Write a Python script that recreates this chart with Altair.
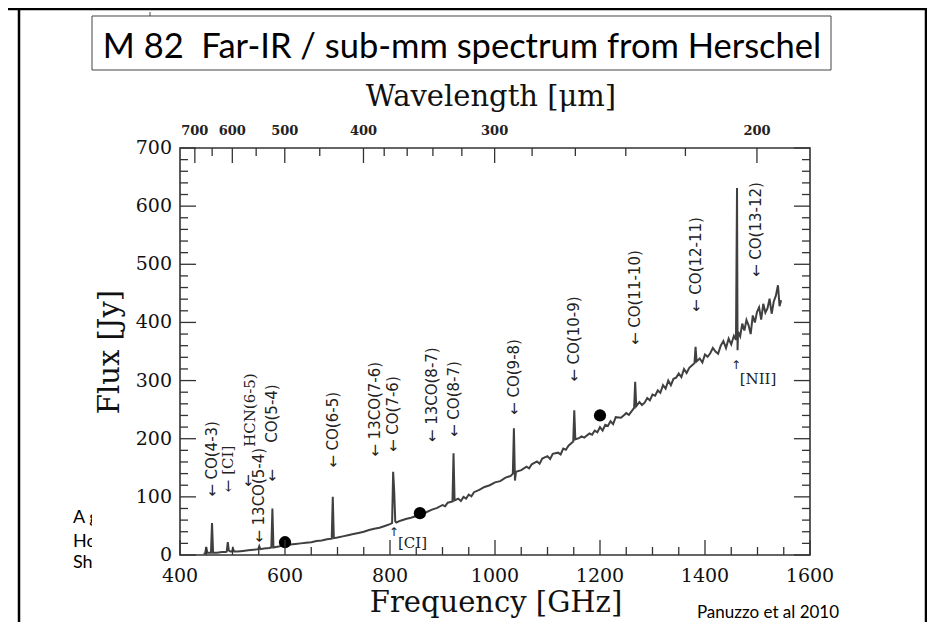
import altair as alt
import pandas as pd

# ---------------- data ----------------
freq = [445, 448, 450, 452, 456, 459, 461, 463, 470, 480,
        487, 489, 491, 493, 496, 499, 501, 503, 510, 520,
        530, 540, 549, 551, 553, 560, 570, 574, 576, 578,
        590, 600, 610, 620, 630, 640, 650, 660, 670, 680,
        689, 691, 693, 700, 710, 720, 730, 740, 750, 760,
        770, 780, 790, 800, 804, 806, 808, 810, 812, 820,
        830, 840, 850, 860, 870, 880, 890, 900, 905, 910,
        919, 921, 923, 930, 935, 940, 945, 950, 955, 960,
        970, 980, 990, 1000, 1010, 1020, 1030, 1034, 1036, 1038,
        1040, 1050, 1060, 1065, 1070, 1080, 1085, 1090, 1100, 1105,
        1110, 1120, 1125, 1130, 1135, 1140, 1149, 1151, 1153, 1160,
        1165, 1170, 1180, 1185, 1190, 1195, 1200, 1205, 1210, 1215,
        1220, 1225, 1230, 1240, 1245, 1250, 1255, 1265, 1267, 1269,
        1275, 1280, 1285, 1290, 1295, 1300, 1305, 1310, 1315, 1320,
        1325, 1330, 1335, 1340, 1345, 1350, 1355, 1360, 1365, 1370,
        1375, 1380, 1382, 1384, 1390, 1395, 1400, 1405, 1410, 1415,
        1420, 1425, 1430, 1435, 1440, 1445, 1450, 1455, 1459, 1461,
        1462, 1463, 1467, 1471, 1475, 1479, 1483, 1487, 1491, 1495,
        1499, 1503, 1507, 1511, 1515, 1519, 1523, 1527, 1531, 1535,
        1539, 1542, 1545]
flux = [2, 3, 14, 4, 4, 4, 55, 4, 4, 5,
        5, 6, 22, 8, 6, 6, 11, 6, 6, 7,
        8, 9, 10, 15, 10, 11, 12, 13, 80, 13,
        15, 17, 18, 19, 20, 21, 22, 24, 25, 27,
        28, 100, 29, 30, 32, 34, 36, 38, 40, 43,
        45, 47, 50, 53, 55, 143, 110, 58, 56, 59,
        62, 64, 67, 70, 74, 78, 81, 86, 84, 90,
        92, 175, 94, 97, 93, 100, 97, 104, 101, 108,
        112, 117, 120, 125, 127, 133, 136, 140, 218, 128,
        143, 146, 152, 149, 156, 161, 157, 166, 170, 165,
        174, 176, 173, 183, 181, 188, 195, 249, 199, 201,
        204, 202, 209, 207, 214, 211, 220, 214, 224, 222,
        230, 225, 237, 236, 240, 244, 241, 253, 298, 256,
        263, 258, 262, 270, 266, 276, 274, 283, 279, 292,
        286, 300, 292, 303, 305, 312, 306, 320, 313, 322,
        326, 330, 358, 333, 338, 331, 345, 341, 347, 356,
        350, 346, 360, 368, 356, 372, 362, 377, 370, 631,
        352, 384, 376, 398, 386, 404, 395, 380, 412, 400,
        418, 426, 405, 432, 417, 424, 441, 415, 436, 446,
        464, 428, 438]

dot_freq = [600, 857, 1200]
dot_flux = [22, 72, 240]

x_major = [400, 600, 800, 1000, 1200, 1400, 1600]
x_minor = [450, 500, 550, 650, 700, 750, 850, 900, 950, 1050, 1100,
           1150, 1250, 1300, 1350, 1450, 1500, 1550]
y_major = [0, 100, 200, 300, 400, 500, 600, 700]
y_minor = [20, 40, 60, 80, 120, 140, 160, 180, 220, 240, 260, 280,
           320, 340, 360, 380, 420, 440, 460, 480, 520, 540, 560, 580,
           620, 640, 660, 680]
wl_major = [700, 600, 500, 400, 300, 200]
wl_minor = [650, 550, 450, 380, 360, 340, 320, 280, 260, 240, 220]
C_UM_GHZ = 299792.458  # wavelength [um] * frequency [GHz]

sans_text = ["← CO(4-3)", "← 13CO(5-4)", "CO(5-4)", "←", "←", "← CO(6-5)",
             "← 13CO(7-6)", "← CO(7-6)", "← 13CO(8-7)", "← CO(8-7)",
             "← CO(9-8)", "← CO(10-9)", "← CO(11-10)", "← CO(12-11)",
             "← CO(13-12)"]
sans_freq = [461, 551, 576, 576, 530, 691, 771, 806, 880, 921, 1036, 1151,
             1267, 1382, 1497]
sans_flux = [100, 21, 193, 126, 117, 150, 169, 177, 194, 203, 241, 298,
             361, 418, 478]

serif_rot_text = ["← [CI]", "HCN(6-5)"]
serif_rot_freq = [492, 533]
serif_rot_flux = [108, 186]

flat_text = ["[CI]", "[NII]"]
flat_freq = [815, 1466]
flat_flux = [20, 302]
up_freq = [807, 1459]
up_flux = [40, 326]

slide_words = ["A g", "Ho", "Sh"]

SERIF = "DejaVu Serif"
SANS = "DejaVu Sans"
SLIDE = "Lato"
W, H = 630, 407

xs = alt.Scale(domain=[400, 1600], nice=False, zero=False)
ys = alt.Scale(domain=[0, 700], nice=False, zero=False)


def X(field):
    return alt.X(field, type="quantitative", scale=xs, axis=None)


def Y(field):
    return alt.Y(field, type="quantitative", scale=ys, axis=None)


one = pd.DataFrame({"k": [0]})
spec_df = pd.DataFrame({"freq": freq, "flux": flux})
dots_df = pd.DataFrame({"freq": dot_freq, "flux": dot_flux})

layers = []

# ---------------- spectrum and photometry ----------------
layers.append(alt.Chart(spec_df).mark_line(color="#404040", strokeWidth=2).encode(
    x=X("freq"), y=Y("flux")))
layers.append(alt.Chart(dots_df).mark_circle(color="black", size=150, opacity=1).encode(
    x=X("freq"), y=Y("flux")))

# ---------------- slide decoration ----------------
layers.append(alt.Chart(one).mark_rule(color="black", strokeWidth=2.5).encode(
    x=alt.value(-161), y=alt.value(-140), y2=alt.value(480)))
layers.append(alt.Chart(one).mark_rule(color="black", strokeWidth=2.5).encode(
    x=alt.value(746), y=alt.value(-140), y2=alt.value(480)))
layers.append(alt.Chart(one).mark_rule(color="black", strokeWidth=2.5).encode(
    x=alt.value(-172), x2=alt.value(760), y=alt.value(-139)))
layers.append(alt.Chart(one).mark_rule(color="#444", strokeWidth=1).encode(
    x=alt.value(-30), y=alt.value(-136), y2=alt.value(-132)))
layers.append(alt.Chart(one).mark_rect(fill="white", stroke="#444", strokeWidth=1).encode(
    x=alt.value(-88), x2=alt.value(651), y=alt.value(-132), y2=alt.value(-78)))
layers.append(alt.Chart(one).mark_text(
    font=SLIDE, fontSize=34.5, align="center", baseline="alphabetic", color="black"
).encode(x=alt.value(282), y=alt.value(-90),
         text=alt.value("M 82\u00a0 Far-IR / sub-mm spectrum from Herschel")))

for word, yy in zip(slide_words, [370, 394, 415]):
    layers.append(alt.Chart(one).mark_text(
        font=SLIDE, fontSize=18, align="left", baseline="middle", color="black"
    ).encode(x=alt.value(-107), y=alt.value(yy), text=alt.value(word)))
layers.append(alt.Chart(one).mark_rect(fill="white").encode(
    x=alt.value(-88), x2=alt.value(-52), y=alt.value(355), y2=alt.value(430)))
layers.append(alt.Chart(one).mark_text(
    font=SLIDE, fontSize=17, align="center", baseline="middle", color="black"
).encode(x=alt.value(588), y=alt.value(465), text=alt.value("Panuzzo et al 2010")))

# ---------------- inward ticks on all four sides ----------------
TC = "#333"
xM = pd.DataFrame({"v": x_major})
xm = pd.DataFrame({"v": x_minor})
yM = pd.DataFrame({"v": y_major})
ym = pd.DataFrame({"v": y_minor})
tM = pd.DataFrame({"wl": wl_major, "v": [C_UM_GHZ / w for w in wl_major]})
tm = pd.DataFrame({"wl": wl_minor, "v": [C_UM_GHZ / w for w in wl_minor]})

for df, ln in ((xM, 15), (xm, 8)):
    layers.append(alt.Chart(df).mark_rule(color=TC, strokeWidth=1.3).encode(
        x=X("v"), y=alt.value(H), y2=alt.value(H - ln)))
for df, ln in ((tM, 15), (tm, 8)):
    layers.append(alt.Chart(df).mark_rule(color=TC, strokeWidth=1.3).encode(
        x=X("v"), y=alt.value(0), y2=alt.value(ln)))
for df, ln in ((yM, 16), (ym, 8)):
    layers.append(alt.Chart(df).mark_rule(color=TC, strokeWidth=1.3).encode(
        y=Y("v"), x=alt.value(0), x2=alt.value(ln)))
    layers.append(alt.Chart(df).mark_rule(color=TC, strokeWidth=1.3).encode(
        y=Y("v"), x=alt.value(W), x2=alt.value(W - ln)))

# ---------------- tick labels and axis titles ----------------
layers.append(alt.Chart(xM).mark_text(
    font=SERIF, fontSize=19, baseline="middle", align="center", color="#111"
).encode(x=X("v"), y=alt.value(H + 21), text="v:Q"))
layers.append(alt.Chart(yM).mark_text(
    font=SERIF, fontSize=19, baseline="middle", align="right", color="#111"
).encode(y=Y("v"), x=alt.value(-8), text="v:Q"))
layers.append(alt.Chart(tM).mark_text(
    font=SERIF, fontSize=13, fontWeight="bold", baseline="middle", color="#222"
).encode(x=X("v"), y=alt.value(-17), text="wl:Q"))
layers.append(alt.Chart(one).mark_text(
    font=SERIF, fontSize=29, baseline="middle", align="center", color="#111"
).encode(x=alt.value(311), y=alt.value(-51), text=alt.value("Wavelength [μm]")))
layers.append(alt.Chart(one).mark_text(
    font=SERIF, fontSize=29, baseline="middle", align="center", color="#111"
).encode(x=alt.value(316), y=alt.value(455), text=alt.value("Frequency [GHz]")))
layers.append(alt.Chart(one).mark_text(
    font=SERIF, fontSize=29, baseline="middle", align="center", angle=270, color="#111"
).encode(x=alt.value(-70), y=alt.value(204), text=alt.value("Flux [Jy]")))

# ---------------- line identifications ----------------
sans_df = pd.DataFrame({"t": sans_text, "freq": sans_freq, "flux": sans_flux})
layers.append(alt.Chart(sans_df).mark_text(
    font=SANS, fontSize=15, angle=270, align="left", baseline="middle", color="#222"
).encode(x=X("freq"), y=Y("flux"), text="t:N"))

serif_rot_df = pd.DataFrame({"t": serif_rot_text, "freq": serif_rot_freq, "flux": serif_rot_flux})
layers.append(alt.Chart(serif_rot_df).mark_text(
    font=SERIF, fontSize=15, angle=270, align="left", baseline="middle", color="#222"
).encode(x=X("freq"), y=Y("flux"), text="t:N"))

flat_df = pd.DataFrame({"t": flat_text, "freq": flat_freq, "flux": flat_flux})
layers.append(alt.Chart(flat_df).mark_text(
    font=SERIF, fontSize=15, align="left", baseline="middle", color="#222"
).encode(x=X("freq"), y=Y("flux"), text="t:N"))

up_df = pd.DataFrame({"t": ["↑", "↑"], "freq": up_freq, "flux": up_flux})
layers.append(alt.Chart(up_df).mark_text(
    font=SANS, fontSize=12, align="center", baseline="middle", color="#222"
).encode(x=X("freq"), y=Y("flux"), text="t:N"))

chart = alt.layer(*layers).properties(
    width=W, height=H,
    autosize=alt.AutoSizeParams(type="none"),
    padding={"left": 172, "top": 140, "right": 117, "bottom": 67},
    background="white",
).configure_view(stroke="#333", strokeWidth=1.6)

chart.save("out.html", embed_options={"renderer": "svg", "actions": False})
